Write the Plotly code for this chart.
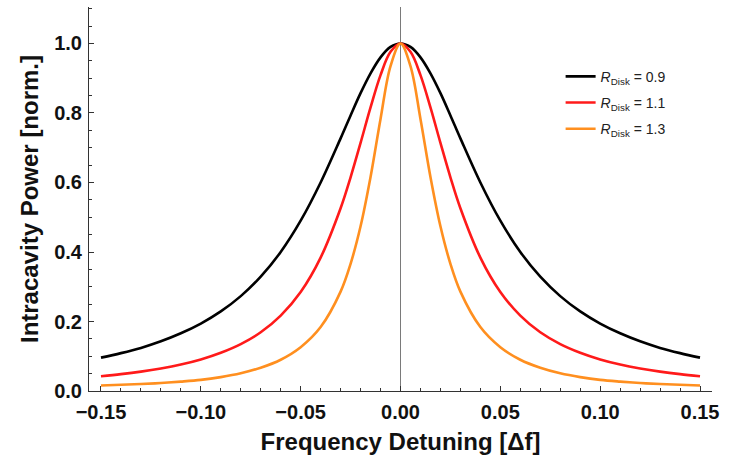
import plotly.graph_objects as go

# Frequency detuning samples (units of Δf)
detuning = [-0.15, -0.14, -0.13, -0.12, -0.11, -0.10, -0.09, -0.08, -0.07, -0.06,
            -0.05, -0.04, -0.03, -0.025, -0.02, -0.015, -0.01, -0.005, 0.0,
            0.005, 0.01, 0.015, 0.02, 0.025, 0.03, 0.04, 0.05, 0.06, 0.07,
            0.08, 0.09, 0.10, 0.11, 0.12, 0.13, 0.14, 0.15]

# Normalised intracavity power for each disk radius
power_r09 = [0.096, 0.109, 0.124, 0.143, 0.166, 0.194, 0.229, 0.273, 0.329, 0.400,
             0.490, 0.600, 0.727, 0.793, 0.857, 0.914, 0.960, 0.990, 1.000,
             0.990, 0.960, 0.914, 0.857, 0.793, 0.727, 0.600, 0.490, 0.400, 0.329,
             0.273, 0.229, 0.194, 0.166, 0.143, 0.124, 0.109, 0.096]
power_r11 = [0.0425, 0.0485, 0.0558, 0.0649, 0.0762, 0.0908, 0.110, 0.135, 0.169, 0.217,
             0.285, 0.384, 0.526, 0.615, 0.714, 0.816, 0.909, 0.976, 1.000,
             0.976, 0.909, 0.816, 0.714, 0.615, 0.526, 0.384, 0.285, 0.217, 0.169,
             0.135, 0.110, 0.0908, 0.0762, 0.0649, 0.0558, 0.0485, 0.0425]
power_r13 = [0.016, 0.018, 0.020, 0.023, 0.027, 0.032, 0.040, 0.051, 0.067, 0.090,
             0.126, 0.184, 0.286, 0.366, 0.474, 0.616, 0.783, 0.935, 1.000,
             0.935, 0.783, 0.616, 0.474, 0.366, 0.286, 0.184, 0.126, 0.090, 0.067,
             0.051, 0.040, 0.032, 0.027, 0.023, 0.020, 0.018, 0.016]

series = [
    ("<i>R</i><sub>Disk</sub> = 0.9", power_r09, "#000000"),
    ("<i>R</i><sub>Disk</sub> = 1.1", power_r11, "#ff1a1a"),
    ("<i>R</i><sub>Disk</sub> = 1.3", power_r13, "#ff8f1f"),
]

x_ticks = [-0.15, -0.10, -0.05, 0.0, 0.05, 0.10, 0.15]
x_tick_text = ["\u22120.15", "\u22120.10", "\u22120.05", "0.00", "0.05", "0.10", "0.15"]
y_ticks = [0.0, 0.2, 0.4, 0.6, 0.8, 1.0]
y_tick_text = ["0.0", "0.2", "0.4", "0.6", "0.8", "1.0"]

fig = go.Figure()
for i, (name, vals, color) in enumerate(series):
    fig.add_trace(go.Scatter(
        x=detuning, y=vals, mode="lines", name=name,
        legendgroup=f"g{i}",
        line=dict(color=color, width=2.6, shape="spline", smoothing=1.0),
    ))

# thin marker at zero detuning
fig.add_shape(type="line", xref="x", yref="paper", x0=0, x1=0, y0=0, y1=1,
              line=dict(color="#7a7a7a", width=1), layer="below")

FAMILY = "Liberation Sans, Arial, sans-serif"
tick_font = dict(family=FAMILY, size=20, color="#111111", weight="bold")
title_font = dict(family=FAMILY, size=24, color="#111111", weight="bold")

fig.update_layout(
    width=732, height=457,
    margin=dict(l=89, r=20, t=7, b=66),
    paper_bgcolor="white", plot_bgcolor="white",
    showlegend=True,
    legend=dict(
        x=0.757, y=0.86, xanchor="left", yanchor="top",
        font=dict(family=FAMILY, size=14, color="#222222"),
        bgcolor="rgba(0,0,0,0)", tracegroupgap=5, itemwidth=30,
    ),
    xaxis=dict(
        range=[-0.156, 0.156], showgrid=False, zeroline=False,
        showline=True, linecolor="#333333", linewidth=1,
        tickmode="array", tickvals=x_ticks, ticktext=x_tick_text,
        ticks="inside", ticklen=5, tickcolor="#333333",
        minor=dict(dtick=0.01, tick0=0, ticks="inside", ticklen=3, tickcolor="#333333"),
        tickfont=tick_font, ticklabelstandoff=3,
        title=dict(text="Frequency Detuning [\u0394f]", font=title_font, standoff=11),
    ),
    yaxis=dict(
        range=[0, 1.105], showgrid=False, zeroline=False,
        showline=True, linecolor="#333333", linewidth=1,
        tickmode="array", tickvals=y_ticks, ticktext=y_tick_text,
        ticks="inside", ticklen=5, tickcolor="#333333",
        minor=dict(dtick=0.05, tick0=0, ticks="inside", ticklen=3, tickcolor="#333333"),
        tickfont=tick_font, ticklabelstandoff=2,
        title=dict(text="Intracavity Power [norm.]", font=title_font, standoff=8),
    ),
)

fig.write_html("out.html")
